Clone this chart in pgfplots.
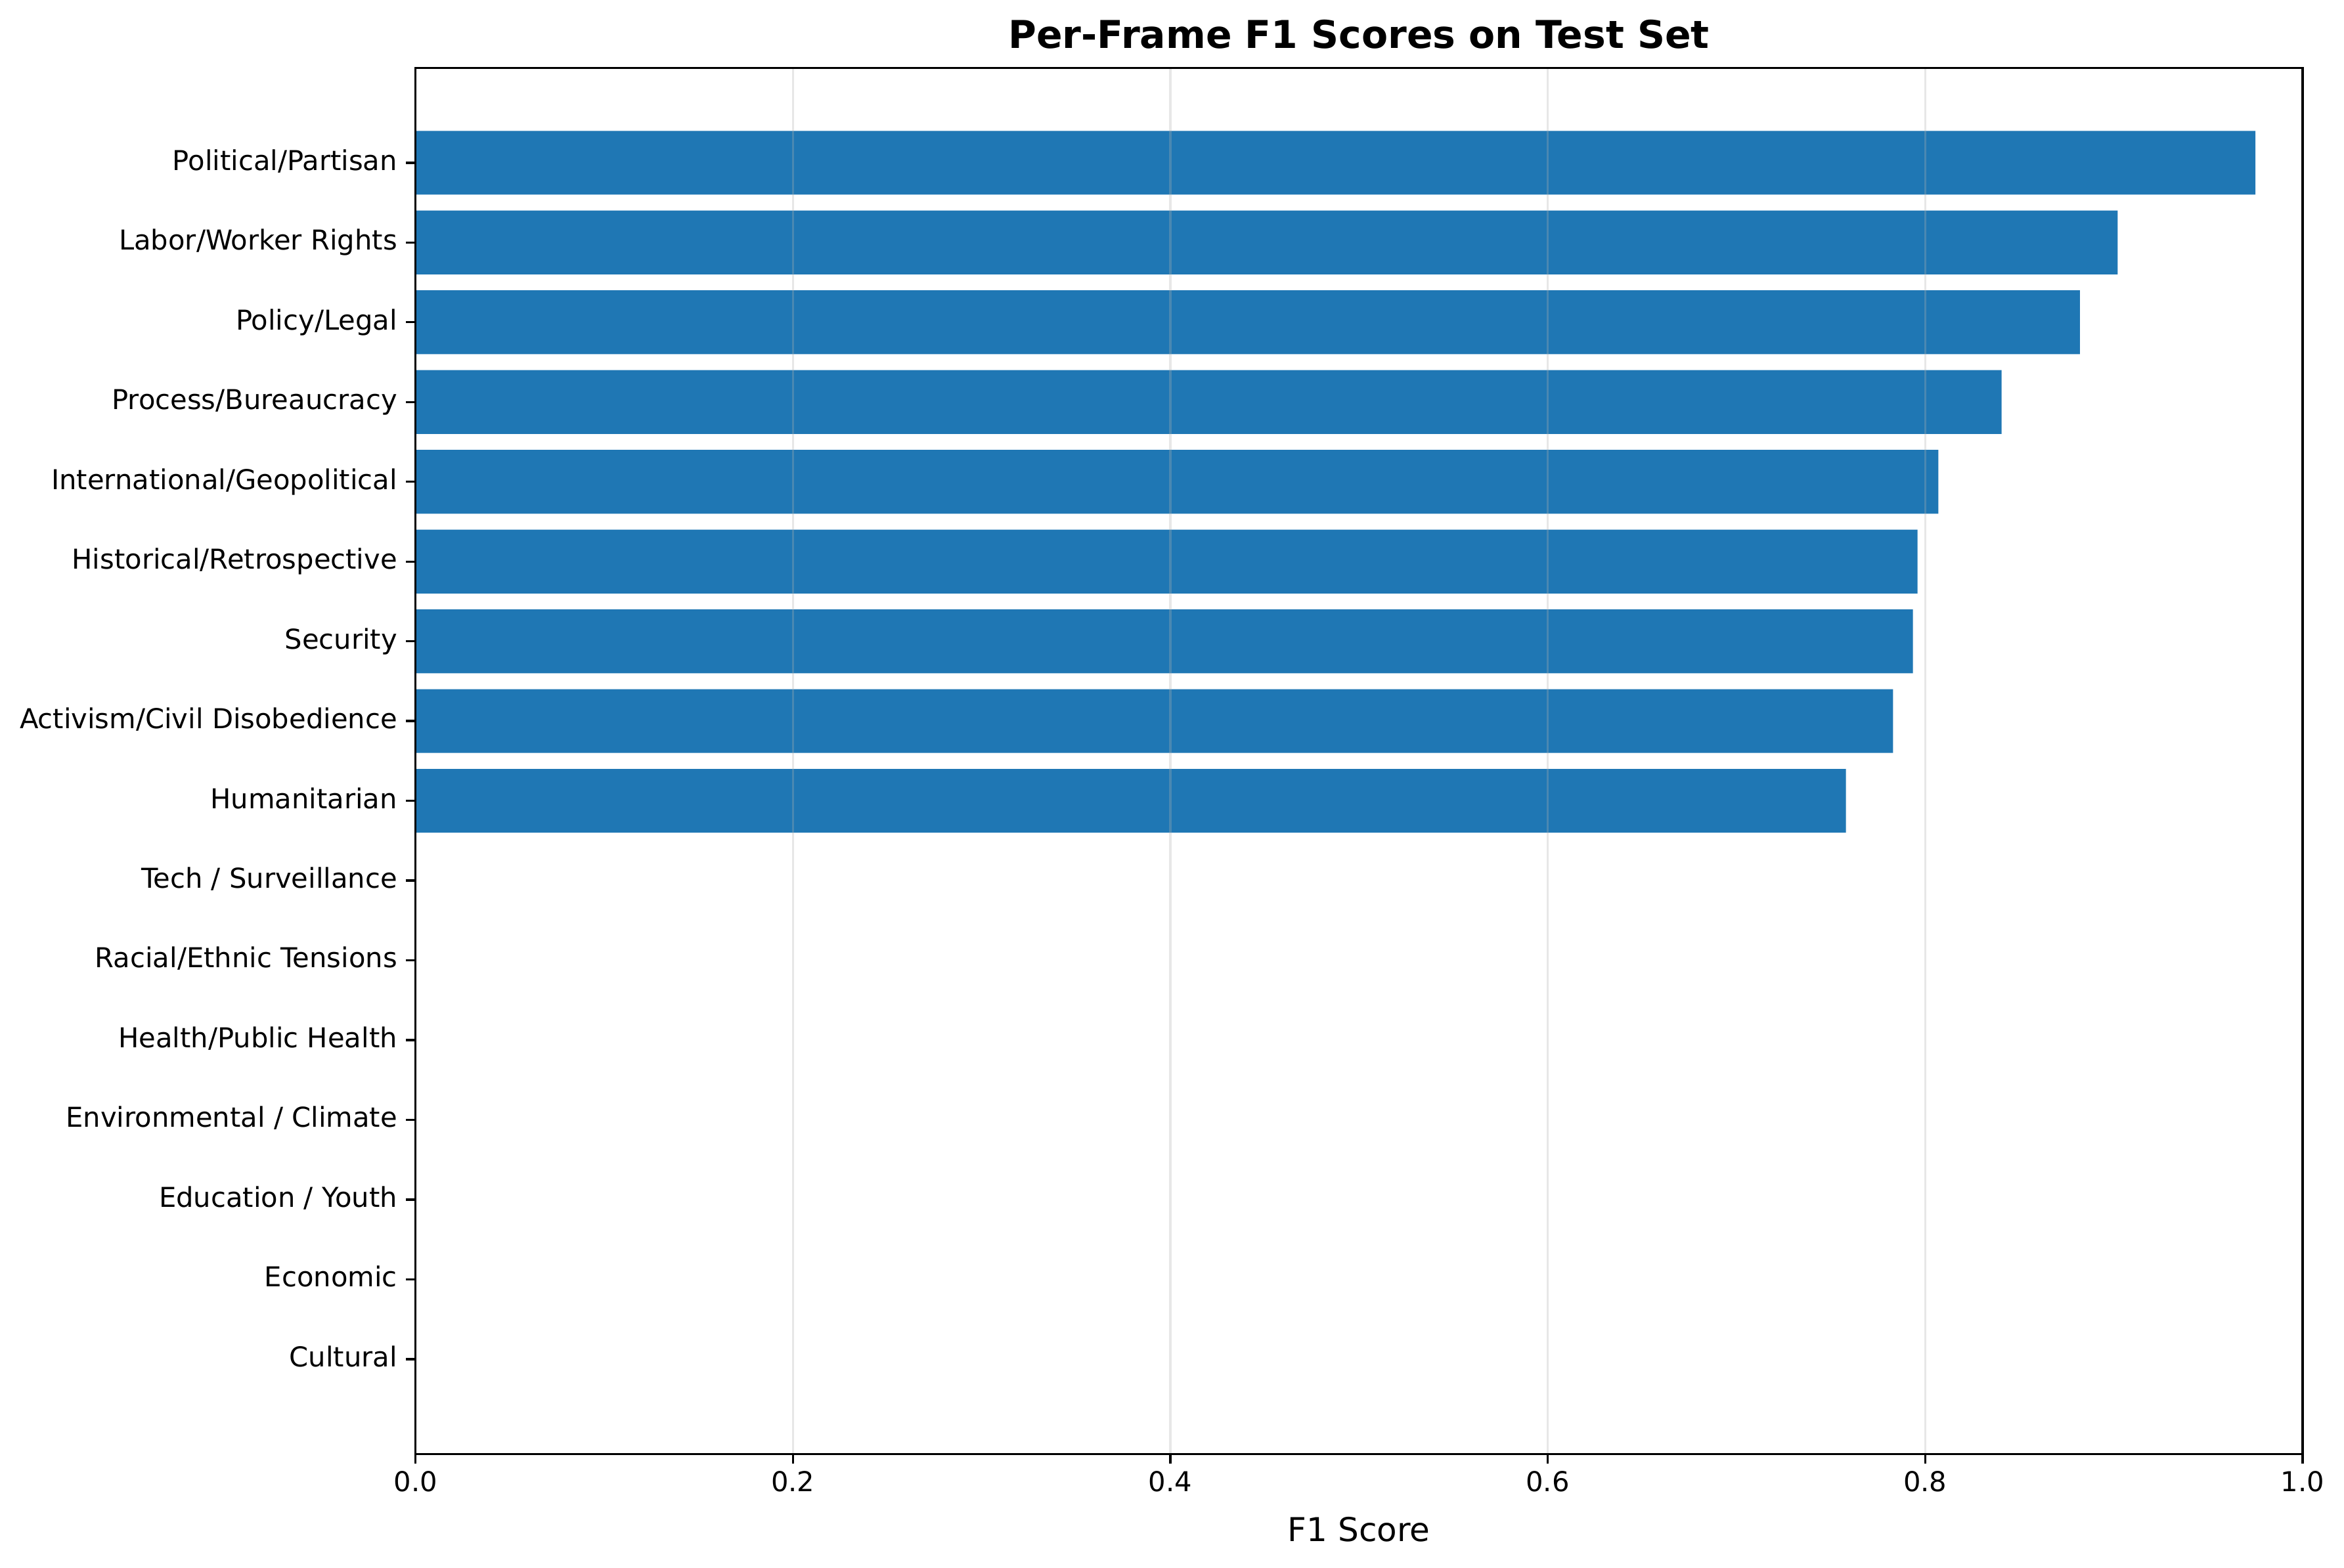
\documentclass[border=0pt]{standalone}
\usepackage{fontspec}
\setmainfont{DejaVu Sans}
\usepackage{pgfplots}
\pgfplotsset{compat=1.18}
\definecolor{barblue}{HTML}{1F77B4}
\definecolor{gridgray}{HTML}{B0B0B0}

\begin{document}
\begin{tikzpicture}
\begin{axis}[
    xbar,
    bar width=0.8,
    scale only axis,
    width=689.2pt, height=506.4pt,
    xmin=0, xmax=1,
    ymin=-1.19, ymax=16.19,
    xtick={0,0.2,0.4,0.6,0.8,1.0},
    xticklabel style={/pgf/number format/fixed, /pgf/number format/fixed zerofill,
        /pgf/number format/precision=1, anchor=base, inner sep=0pt, yshift=-10.2pt},
    ytick={0,...,15},
    yticklabels={Cultural, Economic, Education / Youth, Environmental / Climate,
        Health/Public Health, Racial/Ethnic Tensions, Tech / Surveillance,
        Humanitarian, Activism/Civil Disobedience, Security,
        Historical/Retrospective, International/Geopolitical,
        Process/Bureaucracy, Policy/Legal, Labor/Worker Rights, Political/Partisan},
    yticklabel style={anchor=mid east, inner sep=0pt, xshift=-3pt},
    tick label style={font=\fontsize{10}{12}\selectfont},
    /pgf/number format/assume math mode=true,
    xlabel={F1 Score},
    xlabel style={font=\fontsize{12}{14}\selectfont, at={(axis description cs:0.5,0)},
        anchor=base, inner sep=0pt, yshift=-32pt},
    title={Per-Frame F1 Scores on Test Set},
    title style={font=\fontsize{14}{17}\selectfont\bfseries, at={(axis description cs:0.5,1)},
        anchor=base, inner sep=0pt, yshift=1.2pt},
    xmajorgrids,
    grid style={draw=gridgray, opacity=0.3, line width=0.8pt},
    axis line style={line width=0.8pt},
    tick style={black, line width=0.8pt},
    tick align=outside,
    major tick length=3.5pt,
    xtick pos=bottom, ytick pos=left,
    axis on top,
]
\addplot[fill=barblue, draw=none] coordinates {
    (0,0) (0,1) (0,2) (0,3) (0,4) (0,5) (0,6)
    (0.758,7) (0.783,8) (0.7935,9) (0.796,10) (0.807,11)
    (0.8405,12) (0.882,13) (0.902,14) (0.975,15)
};
\end{axis}
\path ([shift={(-7.2pt,-9.4pt)}]current bounding box.south west)
      ([shift={(7.2pt,7.2pt)}]current bounding box.north east);
\end{tikzpicture}
\end{document}
